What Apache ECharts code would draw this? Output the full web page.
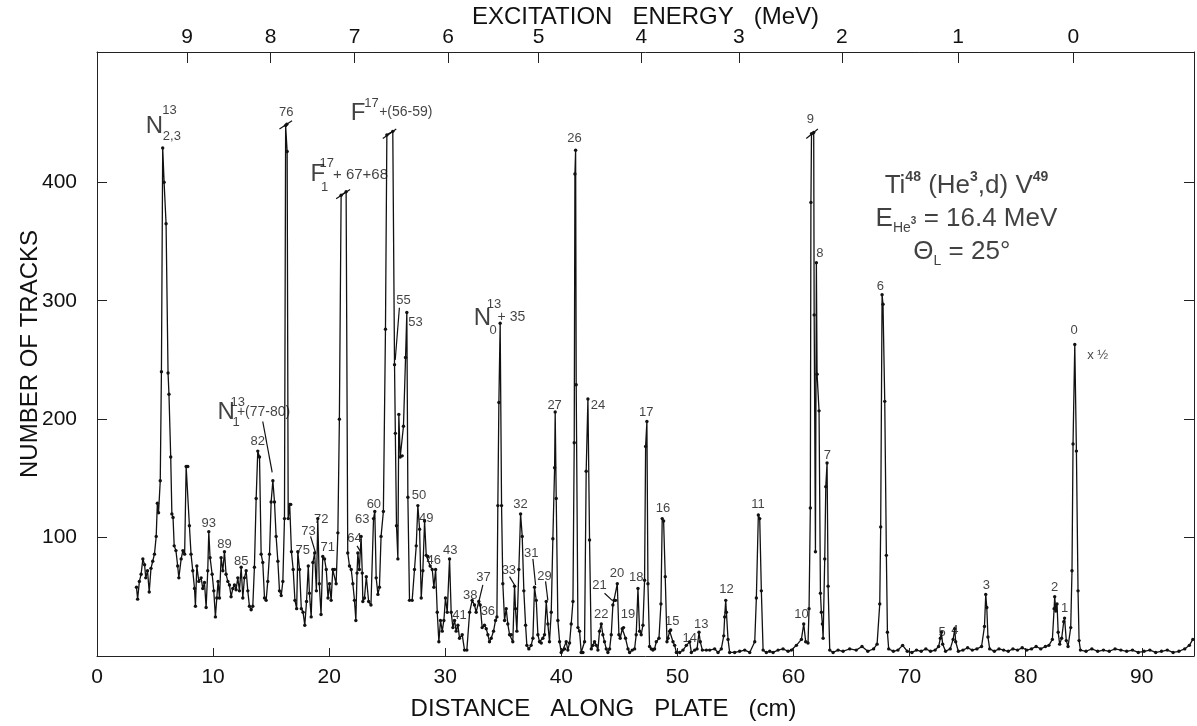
<!DOCTYPE html>
<html>
<head>
<meta charset="utf-8">
<title>Ti48(He3,d)V49 spectrum</title>
<script src="https://cdn.jsdelivr.net/npm/echarts@6/dist/echarts.min.js"></script>
<style>
  html, body { margin: 0; padding: 0; background: #fff; }
  #chart { width: 1197px; height: 726px; }
</style>
</head>
<body>
<div id="chart"></div>
<script>
// Spectrum: [distance along plate (cm), number of tracks]
const region3to16 = [
  [3.4,58],[3.5,48],[3.65,63],[3.8,69],[3.95,82],[4.1,77],[4.2,66],[4.35,72],[4.5,54],[4.65,74],
  [4.8,80],[4.95,86],[5.1,101],[5.2,129],[5.3,121],[5.45,148],[5.55,240],[5.66,429],[5.78,400],[5.95,365],
  [6.12,239],[6.2,221],[6.35,168],[6.45,120],[6.55,117],[6.65,93],[6.8,89],[6.95,76],[7.05,66],[7.25,82],
  [7.4,89],[7.55,86],[7.68,160],[7.82,160],[7.96,110],[8.1,86],[8.25,72],[8.4,57],[8.48,42],[8.6,76],
  [8.77,63],[8.97,66],[9.11,57],[9.26,62],[9.4,41],[9.54,72],[9.63,105],[9.74,83],[9.92,69],[10.06,55],
  [10.2,33],[10.32,49],[10.43,63],[10.55,49],[10.69,83],[10.84,72],[10.98,88],[11.12,69],[11.27,63],[11.41,60],
  [11.55,50],[11.7,57],[11.84,60],[11.98,56],[12.13,66],[12.27,55],[12.42,75],[12.56,49],[12.7,66],[12.85,72],
  [12.99,55],[13.13,42],[13.28,39],[13.42,42],[13.56,75],[13.71,133],[13.85,173],[14.0,168],[14.14,86],[14.28,79],
  [14.43,49],[14.57,47],[14.71,63],[14.86,86],[15.0,130],[15.15,148],[15.29,130],[15.43,101],[15.58,80],[15.72,55],
  [15.87,51],[16.01,63],[16.15,116]
];

const region16to33 = [
  [16.25,448],[16.35,449],[16.38,426],[16.47,116],[16.6,128],[16.69,128],[16.75,88],[16.9,73],[17.05,47],[17.2,40],
  [17.3,88],[17.45,73],[17.6,40],[17.75,37],[17.9,26],[18.05,46],[18.2,76],[18.3,53],[18.45,33],[18.6,79],
  [18.75,87],[18.9,55],[19.02,116],[19.15,61],[19.3,35],[19.45,84],[19.6,82],[19.75,73],[19.9,49],[20.03,61],
  [20.17,47],[20.31,73],[20.46,73],[20.6,61],[20.75,104],[20.88,200],[21.03,389],[21.46,392],[21.6,87],[21.75,76],
  [21.9,73],[22.04,61],[22.18,47],[22.3,30],[22.4,70],[22.47,87],[22.6,73],[22.75,101],[22.85,70],[22.9,46],
  [23.04,49],[23.2,67],[23.4,46],[23.6,43],[23.82,116],[23.93,122],[24.05,66],[24.2,52],[24.33,58],[24.47,101],
  [24.67,122],[24.85,276],[24.97,440],[25.48,443],[25.63,246],[25.7,188],[25.8,110],[25.92,82],[26.0,204],[26.12,168],
  [26.29,169],[26.4,194],[26.58,252],[26.69,290],[26.78,134],[26.92,47],[27.15,47],[27.35,73],[27.5,93],[27.64,127],
  [27.79,107],[27.93,49],[28.07,72],[28.22,114],[28.36,85],[28.5,84],[28.7,76],[28.88,73],[29.02,58],[29.17,73],
  [29.31,37],[29.45,12],[29.59,30],[29.74,21],[29.88,30],[30.02,49],[30.17,37],[30.37,82],[30.51,37],[30.66,24],
  [30.8,30],[30.94,21],[31.09,26],[31.23,15],[31.46,18],[31.66,5],[31.86,5],[32.1,37],[32.32,47],[32.52,43],
  [32.66,37]
];

const region33to49 = [
  [32.89,46],[33.01,43],[33.18,24],[33.38,26],[33.53,23],[33.67,18],[33.81,12],[33.96,15],[34.16,21],[34.33,30],
  [34.45,33],[34.53,127],[34.62,214],[34.73,281],[34.85,127],[34.96,61],[35.11,30],[35.25,40],[35.39,27],[35.54,18],
  [35.68,18],[35.82,12],[35.97,59],[36.05,40],[36.17,21],[36.34,73],[36.49,120],[36.63,101],[36.77,55],[36.92,26],
  [37.03,9],[37.2,6],[37.4,9],[37.55,15],[37.69,58],[37.84,47],[37.98,18],[38.12,12],[38.27,11],[38.41,15],
  [38.55,18],[38.7,46],[38.84,27],[38.98,12],[39.13,37],[39.27,99],[39.42,159],[39.47,206],[39.56,133],[39.7,30],
  [39.85,12],[39.99,3],[40.13,5],[40.28,6],[40.42,12],[40.56,5],[40.71,11],[40.85,27],[41.0,46],[41.11,180],
  [41.17,407],[41.23,427],[41.28,229],[41.43,24],[41.57,21],[41.71,3],[41.86,3],[42.0,12],[42.14,156],[42.29,217],
  [42.43,98],[42.58,6],[42.72,9],[42.86,12],[43.01,9],[43.15,5],[43.29,21],[43.44,27],[43.58,18],[43.72,12],
  [43.87,6],[44.01,3],[44.16,6],[44.3,18],[44.44,43],[44.53,47],[44.67,47],[44.82,61],[44.96,18],[45.07,15],
  [45.25,23],[45.36,24],[45.53,15],[45.74,6],[45.88,3],[46.11,5],[46.31,6],[46.45,18],[46.6,57],[46.74,21],
  [46.88,18],[47.03,26],[47.17,64],[47.26,177],[47.37,198],[47.46,61],[47.6,8],[47.75,6],[47.89,5],[48.03,6],
  [48.18,12],[48.41,15],[48.58,44],[48.69,116],[48.81,114],[48.95,67],[49.1,12]
];

const region49to65 = [
  [49.19,15],[49.33,21],[49.42,22],[49.62,12],[49.76,9],[49.91,3],[50.19,3],[50.48,5],[50.77,9],[51.06,12],
  [51.2,3],[51.49,5],[51.69,6],[51.86,20],[51.97,12],[52.15,5],[52.49,5],[52.78,5],[53.21,6],[53.5,3],
  [53.78,6],[53.99,17],[54.07,33],[54.16,47],[54.22,37],[54.36,14],[54.5,3],[54.93,3],[55.36,4],[55.8,5],
  [56.23,3],[56.66,12],[56.8,49],[56.97,119],[57.09,116],[57.23,55],[57.38,5],[57.66,3],[57.95,4],[58.24,3],
  [58.67,5],[59.1,6],[59.53,4],[59.82,5],[60.25,9],[60.68,14],[60.88,27],[61.05,12],[61.25,11],[61.34,40],
  [61.45,125],[61.5,383],[61.55,441],[61.74,442],[61.78,288],[61.89,88],[61.97,332],[62.03,238],[62.2,207],[62.32,53],
  [62.4,37],[62.49,27],[62.55,15],[62.69,82],[62.78,143],[62.89,163],[62.98,59],[63.12,5],[63.41,3],[63.84,5],
  [64.27,4],[64.84,6]
];

const region65to95 = [
  [65.4,5],[65.9,8],[66.4,4],[66.9,6],[67.2,10],[67.43,44],[67.51,109],[67.63,305],[67.71,297],[67.86,215],
  [68.0,85],[68.09,20],[68.2,6],[68.6,4],[69.0,5],[69.4,9],[69.8,4],[70.2,3],[70.6,5],[71.0,4],
  [71.4,6],[71.8,4],[72.2,5],[72.5,8],[72.65,15],[72.74,20],[72.85,10],[73.1,4],[73.5,6],[73.75,14],
  [73.89,23],[73.97,12],[74.2,4],[74.6,5],[75.0,7],[75.4,5],[75.8,6],[76.2,8],[76.45,25],[76.56,52],
  [76.65,41],[76.75,16],[76.9,6],[77.3,4],[77.7,6],[78.1,5],[78.5,4],[78.9,6],[79.3,5],[79.7,7],
  [80.1,5],[80.5,6],[80.9,8],[81.3,6],[81.7,8],[82.0,9],[82.3,14],[82.45,40],[82.5,50],[82.6,38],
  [82.7,44],[82.8,20],[82.93,10],[83.1,15],[83.28,29],[83.35,32],[83.5,13],[83.65,8],[83.88,24],[83.99,72],
  [84.08,179],[84.23,263],[84.37,173],[84.51,55],[84.6,13],[84.72,5],[85.2,4],[85.7,6],[86.2,4],[86.7,5],
  [87.2,4],[87.7,6],[88.2,5],[88.7,4],[89.2,5],[89.7,3],[90.2,4],[90.7,5],[91.2,3],[91.7,4],
  [92.2,5],[92.7,3],[93.2,4],[93.7,6],[94.1,9],[94.4,14]
];

// axes
const distanceTicks = [0, 10, 20, 30, 40, 50, 60, 70, 80, 90];
const trackTicks = [100, 200, 300, 400];
const energyLabels = ['9', '8', '7', '6', '5', '4', '3', '2', '1', '0'];
const energyTickCm = [7.75, 14.95, 22.2, 30.25, 38.05, 46.9, 55.3, 64.17, 74.17, 84.1];

// peak numbers: [label, cm, tracks]
const peakNumbers = [
  ['93',9.63,112],['89',10.98,94],['85',12.42,80],['82',13.85,181],['76',16.3,459],
  ['75',17.73,89],['73',18.22,105],['72',19.31,115],['71',19.88,92],['64',22.18,99],
  ['63',22.85,115],['60',23.85,128],['55',26.4,300],['53',27.44,282],['50',27.73,136],
  ['49',28.36,116],['46',29.0,81],['43',30.43,89],['41',31.23,34],['38',32.15,51],
  ['37',33.3,66],['36',33.67,38],['33',35.48,72],['32',36.49,128],['31',37.4,87],
  ['29',38.55,67],['27',39.42,212],['26',41.14,437],['24',43.15,212],['22',43.44,35],
  ['21',43.29,60],['20',44.79,70],['19',45.74,35],['18',46.45,66],['17',47.32,206],
  ['16',48.75,125],['15',49.56,29],['14',51.06,15],['13',52.06,27],['12',54.22,56],
  ['11',56.94,128],['10',60.68,35],['9',61.45,453],['8',62.26,340],['7',62.92,169],
  ['6',67.48,312],['5',72.8,20],['4',73.89,22],['3',76.62,60],['2',82.5,58],
  ['1',83.36,40],['0',84.17,275],['x ½',86.2,254]
];

// contaminant labels built from pieces: [text, cm, tracks, fontSize]
const formulaParts = [
  ['N',4.95,447,24],['13',6.25,461,13],['2,3',6.45,439,13],
  ['N',11.12,206,24],['13',12.13,214,13],['1',11.99,197,13],['+(77-80)',14.35,206,14],
  ['F',19.02,407,24],['17',19.8,416,13],['1',19.6,396,13],['+ 67+68',22.7,406,15],
  ['F',22.5,458,24],['17',23.65,467,13],['+(56-59)',26.6,459,14],
  ['N',33.2,285,24],['13',34.2,297,13],['0',34.12,275,13],['+ 35',35.7,286,14]
];

// break marks on peaks that run off scale: [x1, y1, x2, y2]
const breakMarks = [
  [15.72,445,16.8,452],[20.6,386,21.8,394],[24.62,437,25.78,445],[61.1,437,62.1,445]
];

// leader lines from labels to peaks: [x1, y1, x2, y2]
const leaders = [
  [14.28,198,15.09,155],[26.05,294,25.69,250],[18.4,101,18.83,87],[22.4,93,22.77,87],
  [33.24,60,32.89,46],[35.54,67,35.97,60],[37.55,82,37.78,60],[38.64,63,38.84,47],[43.72,53,44.38,47]
];

const spectrum = [].concat(region3to16, region16to33, region33to49, region49to65, region65to95);

const FONT = 'Liberation Sans';
const INK = '#111';

const chart = echarts.init(document.getElementById('chart'));

const richTitle = {
  big: { fontSize: 26, lineHeight: 32, fontFamily: FONT, color: INK },
  sup: { fontSize: 14, lineHeight: 14, verticalAlign: 'top', fontFamily: FONT, color: INK, fontWeight: 'bold' },
  sub: { fontSize: 14, lineHeight: 14, verticalAlign: 'bottom', fontFamily: FONT, color: INK },
  subsup: { fontSize: 10, lineHeight: 10, verticalAlign: 'bottom', padding: [0, 0, 9, 0], fontFamily: FONT, color: INK, fontWeight: 'bold' }
};

const titleLines = [
  ['{big|Ti}{sup|48}{big| (He}{sup|3}{big|,d) V}{sup|49}', 74.9, 397],
  ['{big|E}{sub|He}{subsup|3}{big| = 16.4 MeV}', 74.9, 369],
  ['{big|Θ}{sub|L}{big| = 25°}', 74.5, 341]
];

const noteData = []
  .concat(peakNumbers.map(p => ({ name: p[0], value: [p[1], p[2]], label: { fontSize: 13 } })))
  .concat(formulaParts.map(p => ({ name: p[0], value: [p[1], p[2]], label: { fontSize: p[3] } })))
  .concat(titleLines.map(p => ({ name: p[0], value: [p[1], p[2]], label: { rich: richTitle } })));

const lineSegments = breakMarks.concat(leaders).map(s => [
  { coord: [s[0], s[1]] }, { coord: [s[2], s[3]] }
]);

function energyFor(v) {
  let best = 0;
  energyTickCm.forEach((c, i) => {
    if (Math.abs(c - v) < Math.abs(energyTickCm[best] - v)) best = i;
  });
  return energyLabels[best];
}

const axisText = { fontFamily: FONT, fontSize: 21, color: INK };
const axisLine = { show: true, onZero: false, lineStyle: { color: '#222', width: 1 } };
const tickStyle = { color: '#222', width: 1 };
const titleText = { fontFamily: FONT, fontSize: 24, color: INK };

chart.setOption({
  backgroundColor: '#fff',
  animation: false,
  grid: { left: 97, right: 3, top: 52, bottom: 70, containLabel: false, outerBoundsMode: 'none' },
  xAxis: [
    {
      type: 'value', position: 'bottom', min: 0, max: 94.5, interval: 10,
      axisLine: axisLine,
      axisTick: { inside: true, length: 8, customValues: distanceTicks, lineStyle: tickStyle },
      axisLabel: Object.assign({ margin: 11, customValues: distanceTicks }, axisText),
      splitLine: { show: false },
      name: 'DISTANCE   ALONG   PLATE   (cm)', nameLocation: 'middle', nameGap: 41,
      nameTextStyle: Object.assign({ padding: [0, 84, 0, 0] }, titleText)
    },
    {
      type: 'value', position: 'top', min: 0, max: 94.5,
      axisLine: axisLine,
      axisTick: { inside: true, length: 11, customValues: energyTickCm, lineStyle: tickStyle },
      axisLabel: Object.assign({ margin: 4, customValues: energyTickCm, formatter: energyFor }, axisText),
      splitLine: { show: false },
      name: 'EXCITATION   ENERGY   (MeV)', nameLocation: 'middle', nameGap: 23, nameMoveOverlap: false,
      nameTextStyle: titleText
    }
  ],
  yAxis: [
    {
      type: 'value', position: 'left', min: 0, max: 510,
      axisLine: axisLine,
      axisTick: { inside: true, length: 10, customValues: trackTicks, lineStyle: tickStyle },
      axisLabel: Object.assign({ margin: 20, customValues: trackTicks }, axisText),
      splitLine: { show: false },
      name: 'NUMBER OF TRACKS', nameLocation: 'middle', nameGap: 55, nameRotate: 90, nameMoveOverlap: false,
      nameTextStyle: titleText
    },
    {
      type: 'value', position: 'right', min: 0, max: 510,
      axisLine: axisLine,
      axisTick: { inside: true, length: 10, customValues: trackTicks, lineStyle: tickStyle },
      axisLabel: { show: false },
      splitLine: { show: false }
    }
  ],
  series: [
    {
      name: 'tracks',
      type: 'line',
      data: spectrum,
      xAxisIndex: 0,
      yAxisIndex: 0,
      symbol: 'circle',
      symbolSize: 3.4,
      itemStyle: { color: INK },
      lineStyle: { color: INK, width: 1.3 },
      z: 3,
      markLine: {
        silent: true,
        symbol: ['none', 'none'],
        label: { show: false },
        lineStyle: { color: INK, width: 1.2, type: 'solid' },
        data: lineSegments
      }
    },
    {
      name: 'notes',
      type: 'scatter',
      silent: true,
      symbolSize: 0,
      z: 5,
      data: noteData,
      label: {
        show: true,
        position: 'inside',
        formatter: p => p.name,
        fontFamily: FONT,
        color: INK,
        fontSize: 13
      }
    }
  ]
});
</script>
</body>
</html>
